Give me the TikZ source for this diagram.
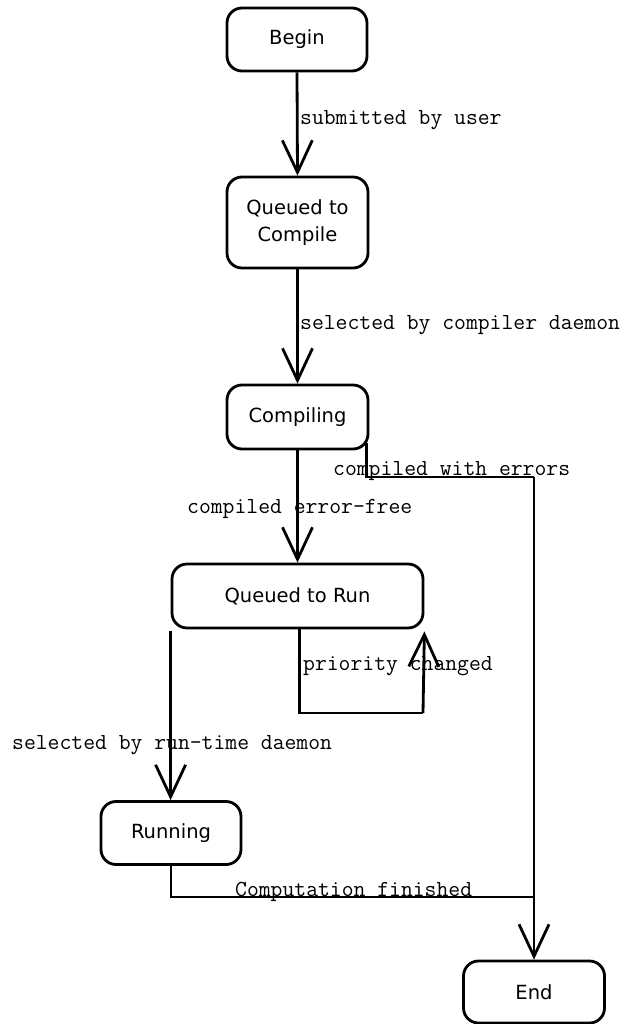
\documentclass[tikz,border=0pt]{standalone}
\usepackage{fontspec}
\setmainfont{DejaVu Sans}
\setmonofont{Latin Modern Mono}
\usetikzlibrary{arrows.meta}
\tikzset{
  state/.style={draw, line width=2.8pt, rounded corners=15pt, inner sep=0pt,
    align=center, font=\fontsize{19.5}{27}\selectfont},
  lbl/.style={anchor=base west, inner sep=0pt, font=\ttfamily\fontsize{23}{23}\selectfont},
  conn/.style={line width=2.8pt},
  arr/.style={conn, -{Straight Barb[length=32pt,width=30pt,line width=2.8pt]}}
}
\begin{document}
\begin{tikzpicture}[x=1pt,y=-1pt]
\useasboundingbox (0,0) rectangle (619,1024);
\node[state, minimum width=140pt, minimum height=63pt] (begin) at (297,39.5) {Begin};
\node[state, minimum width=141pt, minimum height=91pt] (qc) at (297.5,222.5) {Queued to\\Compile};
\node[state, minimum width=141pt, minimum height=64pt] (comp) at (297.5,417) {Compiling};
\node[state, minimum width=251pt, minimum height=64pt] (qr) at (297.5,596) {Queued to Run};
\node[state, minimum width=140pt, minimum height=63pt] (run) at (171,833) {Running};
\node[state, minimum width=141pt, minimum height=62pt] (end) at (534,992) {End};

\coordinate (j1) at (534,477);
\coordinate (j2) at (534,897);
\coordinate (p1) at (423,713);

\draw[arr] (begin.south) -- (qc.north);
\draw[arr] (qc.south) -- (comp.north);
\draw[arr] (comp.south) -- (qr.north);
\draw[conn] ([xshift=-3pt,yshift=7pt]comp.south east) |- (j1);
\draw[arr] (j1) -- (end.north);
\draw[arr] ([yshift=-2pt]qr.south west) -- (qr.south west |- run.north);
\draw[conn] ([xshift=2pt]qr.south) |- (p1);
\draw[arr] (p1) -- ([yshift=-2pt]qr.south east);
\draw[conn] (run.south) |- (j2);

\node[lbl] (l1) at (300,125) {submitted by user};
\node[lbl] (l2) at (300,329) {selected by compiler daemon};
\node[lbl] (l3) at (333,475) {compiled with errors};
\node[lbl] (l4) at (187,513) {compiled error-free};
\node[lbl] (l5) at (303,670) {priority changed};
\node[lbl] (l6) at (12,749) {selected by run-time daemon};
\node[lbl] (l7) at (235,896) {Computation finished};
\end{tikzpicture}
\end{document}
